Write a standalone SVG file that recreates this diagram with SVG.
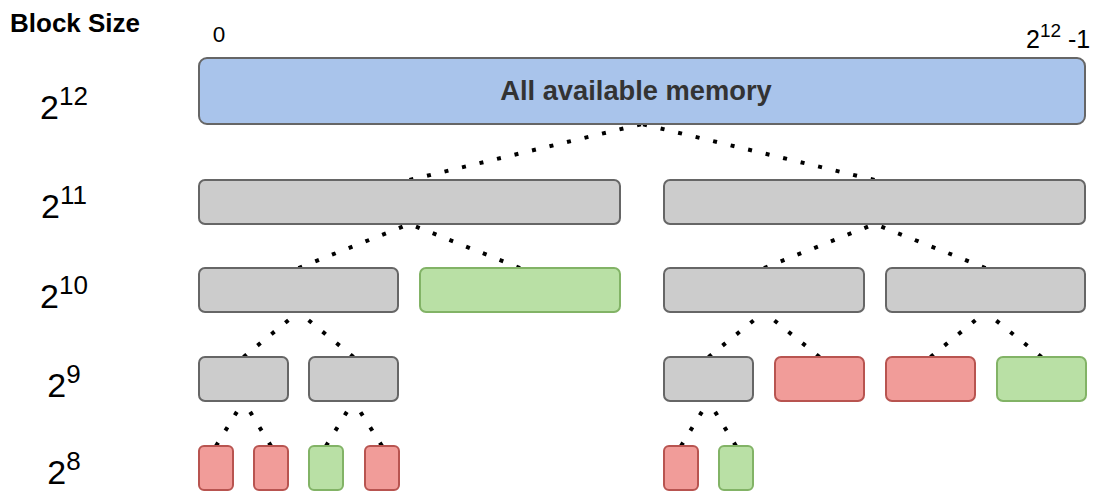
<svg xmlns="http://www.w3.org/2000/svg" width="1100" height="493" viewBox="0 0 1100 493">
<style>
.n{stroke-width:2}
.blue{fill:#A9C4EB;stroke:#666666}
.gray{fill:#CCCCCC;stroke:#666666}
.red{fill:#F19C99;stroke:#B85450}
.green{fill:#B9E0A5;stroke:#82B366}
.c line{stroke:#000000;stroke-width:4;stroke-dasharray:4 14;fill:none}
.t{font-family:"Liberation Sans",Arial,Helvetica,sans-serif;fill:#000000}
.lvl{font-size:34px;text-anchor:middle}
.sup{font-size:26px}
</style>
<rect width="1100" height="493" fill="#FFFFFF"/>
<g id="connectors" class="c">
<line x1="409.5" y1="180" x2="642" y2="124"/>
<line x1="874.5" y1="180" x2="642" y2="124"/>
<line x1="298.5" y1="268" x2="409.5" y2="224"/>
<line x1="520" y1="268" x2="409.5" y2="224"/>
<line x1="764" y1="268" x2="874.5" y2="224"/>
<line x1="985.5" y1="268" x2="874.5" y2="224"/>
<line x1="243.5" y1="357" x2="298.5" y2="312"/>
<line x1="353.5" y1="357" x2="298.5" y2="312"/>
<line x1="708.5" y1="357" x2="764" y2="312"/>
<line x1="819.5" y1="357" x2="764" y2="312"/>
<line x1="930.5" y1="357" x2="985.5" y2="312"/>
<line x1="1041.5" y1="357" x2="985.5" y2="312"/>
<line x1="216" y1="446" x2="243.5" y2="401"/>
<line x1="271" y1="446" x2="243.5" y2="401"/>
<line x1="326" y1="446" x2="353.5" y2="401"/>
<line x1="382" y1="446" x2="353.5" y2="401"/>
<line x1="681" y1="446" x2="708.5" y2="401"/>
<line x1="736" y1="446" x2="708.5" y2="401"/>
</g>
<g id="root">
<rect class="n blue" x="199" y="58" width="886" height="66" rx="8"/>
<text class="t" x="636" y="100" font-size="27.3" font-weight="bold" text-anchor="middle" style="fill:#333333">All available memory</text>
</g>
<g id="l11a"><rect class="n gray" x="199" y="180" width="421" height="44" rx="6"/></g>
<g id="l11b"><rect class="n gray" x="664" y="180" width="421" height="44" rx="6"/></g>
<g id="l10a"><rect class="n gray" x="199" y="268" width="199" height="44" rx="6"/></g>
<g id="l10b"><rect class="n green" x="420" y="268" width="200" height="44" rx="6"/></g>
<g id="l10c"><rect class="n gray" x="664" y="268" width="200" height="44" rx="6"/></g>
<g id="l10d"><rect class="n gray" x="886" y="268" width="199" height="44" rx="6"/></g>
<g id="l9a"><rect class="n gray" x="199" y="357" width="89" height="44" rx="6"/></g>
<g id="l9b"><rect class="n gray" x="309" y="357" width="89" height="44" rx="6"/></g>
<g id="l9c"><rect class="n gray" x="664" y="357" width="89" height="44" rx="6"/></g>
<g id="l9d"><rect class="n red" x="775" y="357" width="89" height="44" rx="6"/></g>
<g id="l9e"><rect class="n red" x="886" y="357" width="89" height="44" rx="6"/></g>
<g id="l9f"><rect class="n green" x="997" y="357" width="89" height="44" rx="6"/></g>
<g id="l8a"><rect class="n red" x="199" y="446" width="34" height="44" rx="5"/></g>
<g id="l8b"><rect class="n red" x="254" y="446" width="34" height="44" rx="5"/></g>
<g id="l8c"><rect class="n green" x="309" y="446" width="34" height="44" rx="5"/></g>
<g id="l8d"><rect class="n red" x="365" y="446" width="34" height="44" rx="5"/></g>
<g id="l8e"><rect class="n red" x="664" y="446" width="34" height="44" rx="5"/></g>
<g id="l8f"><rect class="n green" x="719" y="446" width="34" height="44" rx="5"/></g>
<g id="labels">
<text class="t" x="10" y="31.5" font-size="26" font-weight="bold">Block Size</text>
<text class="t" x="219" y="41.5" font-size="22.5" text-anchor="middle">0</text>
<text class="t" x="1026" y="48.3" font-size="25">2<tspan font-size="19" dy="-11">12</tspan><tspan dy="11"> -1</tspan></text>
<text class="t lvl" x="64" y="119">2<tspan class="sup" dy="-14">12</tspan></text>
<text class="t lvl" x="64" y="218">2<tspan class="sup" dy="-14">11</tspan></text>
<text class="t lvl" x="64" y="308">2<tspan class="sup" dy="-14">10</tspan></text>
<text class="t lvl" x="64" y="396.5">2<tspan class="sup" dy="-14">9</tspan></text>
<text class="t lvl" x="64" y="484.3">2<tspan class="sup" dy="-14">8</tspan></text>
</g>
</svg>
